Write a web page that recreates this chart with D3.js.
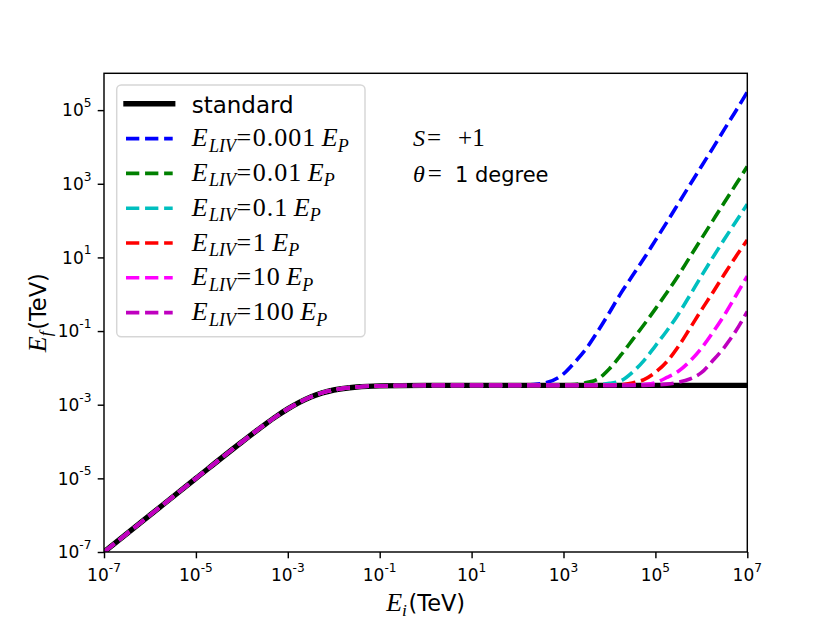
<!DOCTYPE html>
<html><head><meta charset="utf-8">
<script src="https://cdn.jsdelivr.net/npm/d3@7"></script>
<style>body{margin:0;background:#fff} text{white-space:pre}</style>
</head><body>
<svg id="c" width="830" height="622"></svg>
<script>
// ---- data ----
const eInitial = [1e-7, 1e-6, 1e-5, 1e-4, 3.16e-4, 5.62e-4, 1e-3, 1.78e-3, 3.16e-3, 5.62e-3,
  1e-2, 3.16e-2, 0.1, 1, 10, 100, 316, 1e3, 1.78e3, 3.16e3, 5.62e3, 1e4, 1.78e4, 3.16e4,
  5.62e4, 1e5, 1.78e5, 3.16e5, 5.62e5, 1e6, 1.78e6, 3.16e6, 5.62e6, 1e7];
const efStandard = [1e-7, 1e-6, 9.97e-6, 9.71e-5, 2.89e-4, 4.82e-4, 7.70e-4, 1.16e-3, 1.63e-3, 2.10e-3,
  2.51e-3, 3.03e-3, 3.25e-3, 3.34e-3, 3.355e-3, 3.355e-3, 3.355e-3, 3.355e-3, 3.355e-3, 3.355e-3,
  3.355e-3, 3.355e-3, 3.355e-3, 3.355e-3, 3.355e-3, 3.355e-3, 3.355e-3, 3.355e-3, 3.355e-3, 3.355e-3,
  3.355e-3, 3.355e-3, 3.355e-3, 3.355e-3];
// high-energy parts of the LIV curves (below their start index they follow the standard curve)
const efLiv0001 = [3.7e-3, 6.9e-3, 1.45e-2, 3.4e-2, 0.1, 0.32, 1.07, 3.16, 9.3, 29, 91, 290, 930, 2950, 9300, 3.0e4, 9.5e4, 3.1e5];
const efLiv001  = [3.36e-3, 3.43e-3, 3.55e-3, 3.98e-3, 5.0e-3, 9.5e-3, 2.24e-2, 5.75e-2, 0.148, 0.40, 1.11, 3.24, 10.2, 32, 100, 310, 950, 2950];
const efLiv01   = [3.39e-3, 3.47e-3, 3.8e-3, 4.47e-3, 7.6e-3, 1.58e-2, 3.98e-2, 0.102, 0.288, 0.93, 3.1, 10, 31, 93, 280];
const efLiv1    = [3.39e-3, 3.47e-3, 3.9e-3, 4.8e-3, 7.6e-3, 1.48e-2, 3.8e-2, 0.117, 0.37, 1.12, 3.47, 10.5, 29.5];
const efLiv10   = [3.39e-3, 3.55e-3, 3.98e-3, 5.5e-3, 8.1e-3, 1.51e-2, 3.4e-2, 9.2e-2, 0.27, 0.91, 3.1];
const efLiv100  = [3.43e-3, 3.63e-3, 4.07e-3, 5.0e-3, 7.4e-3, 1.58e-2, 3.63e-2, 0.1, 0.34];
const livLabels = ["0.001", "0.01", "0.1", "1", "10", "100"];
const livColors = ["#0000ff", "#008000", "#00bfbf", "#ff0000", "#ff00ff", "#bf00bf"];
const xTickValues = [1e-7, 1e-5, 1e-3, 1e-1, 1e1, 1e3, 1e5, 1e7];
const yTickValues = [1e-7, 1e-5, 1e-3, 1e-1, 1e1, 1e3, 1e5];

const livTails = [efLiv0001, efLiv001, efLiv01, efLiv1, efLiv10, efLiv100];
const series = livTails.map((tail, k) => ({
  label: livLabels[k], color: livColors[k],
  ef: efStandard.slice(0, eInitial.length - tail.length).concat(tail)
}));

// ---- layout ----
const L = 104, R = 747.3, T = 73.3, B = 552;
const svg = d3.select('#c');
svg.append('rect').attr('width', 830).attr('height', 622).attr('fill', '#fff');
const x = d3.scaleLog().domain([1e-7, 1e7]).range([L, R]);
const y = d3.scaleLog().domain([1e-7, 1e6]).range([B, T]);

svg.append('clipPath').attr('id', 'clip').append('rect')
  .attr('x', L).attr('y', T).attr('width', R - L).attr('height', B - T);

const line = d3.line().x((d, i) => x(eInitial[i])).y(d => y(d)).curve(d3.curveMonotoneX);
const gl = svg.append('g').attr('clip-path', 'url(#clip)');
gl.append('path').attr('d', line(efStandard)).attr('fill', 'none')
  .attr('stroke', '#000').attr('stroke-width', 5.4);
series.forEach(s => {
  gl.append('path').attr('d', line(s.ef)).attr('fill', 'none')
    .attr('stroke', s.color).attr('stroke-width', 3.6).attr('stroke-dasharray', '13.3 5.76');
});

// axes
const gx = svg.append('g').attr('transform', `translate(0,${B})`)
  .call(d3.axisBottom(x).tickValues(xTickValues).tickSize(6.3).tickSizeOuter(0).tickFormat(() => ''));
const gy = svg.append('g').attr('transform', `translate(${L},0)`)
  .call(d3.axisLeft(y).tickValues(yTickValues).tickSize(6.3).tickSizeOuter(0).tickFormat(() => ''));
[gx, gy].forEach(g => { g.select('.domain').remove(); g.selectAll('.tick line').attr('stroke', '#000').attr('stroke-width', 1.44); });
svg.append('rect').attr('x', L).attr('y', T).attr('width', R - L).attr('height', B - T)
  .attr('fill', 'none').attr('stroke', '#000').attr('stroke-width', 1.44);

const SANS = 'DejaVu Sans, sans-serif', SERIF = 'Liberation Serif, serif';
function powLabel(g, px, py, v, anchor) {
  const t = g.append('text').attr('x', px).attr('y', py).attr('text-anchor', anchor)
    .attr('font-family', SANS).attr('font-size', 17).attr('fill', '#000');
  t.append('tspan').text('10');
  t.append('tspan').attr('dy', -9.5).attr('font-size', 12.2).text(String(Math.round(Math.log10(v))));
}
xTickValues.forEach(v => powLabel(svg, x(v), 581, v, 'middle'));
yTickValues.forEach(v => powLabel(svg, 91.5, y(v) + 6.3, v, 'end'));

// axis labels
function eLabel(g, sub, px, py, rotate) {
  const t = g.append('text').attr('text-anchor', 'middle').attr('fill', '#000')
    .attr('transform', `translate(${px},${py})` + (rotate ? ' rotate(-90)' : ''));
  t.append('tspan').attr('font-family', SERIF).attr('font-style', 'italic').attr('font-size', 26).text('E');
  t.append('tspan').attr('font-family', SERIF).attr('font-style', 'italic').attr('font-size', 17.5).attr('dy', 5).text(sub);
  t.append('tspan').attr('font-family', SANS).attr('font-size', 22.5).attr('dy', -5).attr('dx', 1.5).text('(TeV)');
}
eLabel(svg, 'i', (L + R) / 2, 611, false);
eLabel(svg, 'f', 46, (T + B) / 2, true);

// annotation
const ann1 = svg.append('text').attr('x', 413).attr('y', 146).attr('fill', '#000');
ann1.append('tspan').attr('font-family', SERIF).attr('font-style', 'italic').attr('font-size', 24).text('S');
ann1.append('tspan').attr('font-family', SERIF).attr('font-size', 25).attr('dx', 2).text('=');
ann1.append('tspan').attr('font-family', SERIF).attr('font-size', 25).attr('dx', 17).text('+1');
const ann2 = svg.append('text').attr('x', 413).attr('y', 182).attr('fill', '#000');
ann2.append('tspan').attr('font-family', SERIF).attr('font-style', 'italic').attr('font-size', 24).text('θ');
ann2.append('tspan').attr('font-family', SERIF).attr('font-size', 25).attr('dx', 3).text('=');
ann2.append('tspan').attr('font-family', SANS).attr('font-size', 21).attr('dx', 13).text('1 degree');

// legend
const lg = svg.append('g');
lg.append('rect').attr('x', 116.7).attr('y', 85).attr('width', 248.3).attr('height', 251.7)
  .attr('rx', 4.5).attr('fill', '#fff').attr('fill-opacity', 0.8)
  .attr('stroke', '#cccccc').attr('stroke-opacity', 0.8).attr('stroke-width', 1.44);
const rowY = i => 103.8 + i * 34.8;
const hx0 = 126, hx1 = 172.7, tx = 191.7;
lg.append('line').attr('x1', hx0).attr('x2', hx1).attr('y1', rowY(0)).attr('y2', rowY(0))
  .attr('stroke', '#000').attr('stroke-width', 5.4).attr('stroke-linecap', 'square');
lg.append('text').attr('x', tx).attr('y', rowY(0) + 9).attr('font-family', SANS).attr('font-size', 23).text('standard');
series.forEach((s, k) => {
  const yy = rowY(k + 1);
  lg.append('line').attr('x1', hx0).attr('x2', hx1).attr('y1', yy).attr('y2', yy)
    .attr('stroke', s.color).attr('stroke-width', 3.6).attr('stroke-dasharray', '13.3 5.76');
  const t = lg.append('text').attr('x', tx).attr('y', yy + 7.5).attr('fill', '#000').attr('font-family', SERIF);
  t.append('tspan').attr('font-style', 'italic').attr('font-size', 26).text('E');
  t.append('tspan').attr('font-style', 'italic').attr('font-size', 18).attr('dx', 1.5).attr('dy', 5.5).text('LIV');
  t.append('tspan').attr('font-size', 26).attr('dy', -5.5).attr('dx', 0.5).text('=');
  t.append('tspan').attr('font-size', 26).attr('dx', 1.5).attr('letter-spacing', 1.0).text(s.label);
  t.append('tspan').attr('font-style', 'italic').attr('font-size', 26).attr('dx', 5.5).text('E');
  t.append('tspan').attr('font-style', 'italic').attr('font-size', 18).attr('dy', 5.5).text('P');
});
</script>
</body></html>
